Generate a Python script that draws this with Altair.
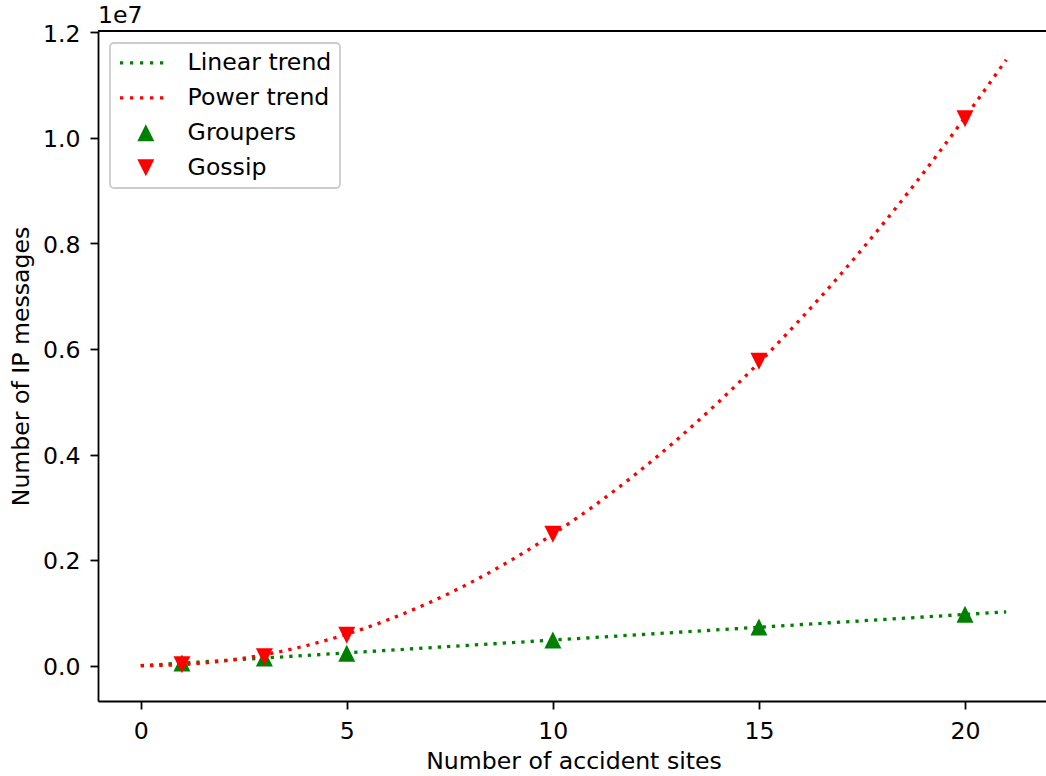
import altair as alt
import pandas as pd

# ---- data ----
sites = [1, 3, 5, 10, 15, 20]
groupers = [49000, 146000, 235000, 486000, 732000, 974000]
gossip = [20000, 171000, 576000, 2490000, 5767000, 10364000]

linear_x = [0, 21]
linear_y = [0, 1020000]

power_x = list(range(0, 22))
power_y = [0, 21690, 90450, 208500, 377200, 597200, 869500, 1194500, 1572800,
           2004600, 2490000, 3030000, 3624000, 4275000, 4981000, 5741000,
           6559000, 7431000, 8361000, 9346000, 10388000, 11481000]

series_names = ["Linear trend", "Power trend", "Groupers", "Gossip"]
series_colors = ["#008000", "#ff0000", "#008000", "#ff0000"]

x_ticks = [0, 5, 10, 15, 20]
y_ticks = [0, 2e6, 4e6, 6e6, 8e6, 1e7, 1.2e7]

FONT = "DejaVu Sans"
FS = 23.6

# ---- tables ----
pts = pd.DataFrame({
    "sites": sites + sites,
    "msgs": groupers + gossip,
    "series": ["Groupers"] * len(sites) + ["Gossip"] * len(sites),
})
lin = pd.DataFrame({"sites": linear_x, "msgs": linear_y})
pw = pd.DataFrame({"sites": power_x, "msgs": power_y})

# legend symbol paths (unit square -1..1 scaled)
def dotted_path(centers, h=0.19):
    return " ".join(f"M{c-h:.3f},{-h}H{c+h:.3f}V{h}H{c-h:.3f}Z" for c in centers)

dots = dotted_path([-2.85, -1.67, -0.49, 0.68, 1.86])
tri_up = "M0,-1L-1,1L1,1Z"
tri_down = "M-1,-1L1,-1L0,1Z"

W, H = 948, 670
xscale = alt.Scale(domain=[-1.036, 21.965], nice=False, zero=False)
yscale = alt.Scale(domain=[-668800, 12024600], nice=False, zero=False)

xaxis = alt.Axis(values=x_ticks, grid=False, title="Number of accident sites",
                 titleX=475.5, titleY=67.3, titleAnchor=None, titleAlign="center",
                 titleBaseline="alphabetic", labelBaseline="alphabetic",
                 labelPadding=29, tickSize=8)
yaxis = alt.Axis(values=y_ticks, grid=False, title="Number of IP messages",
                 labelExpr="format(datum.value / 1e7, '.1f')",
                 titleX=-69.7, titleY=335, titleAngle=270, titleAlign="center",
                 titleBaseline="alphabetic", labelBaseline="alphabetic",
                 labelOffset=8.8, labelPadding=10, tickSize=8)

dash = [3.3, 6.0]

lin_layer = alt.Chart(lin).mark_line(color="#008000", strokeWidth=3.3,
                                     strokeDash=dash, strokeCap="butt").encode(
    x=alt.X("sites:Q", scale=xscale, axis=xaxis),
    y=alt.Y("msgs:Q", scale=yscale, axis=yaxis),
)
pw_layer = alt.Chart(pw).mark_line(color="#ff0000", strokeWidth=3.3, strokeDash=dash,
                                   strokeCap="butt", interpolate="monotone").encode(
    x=alt.X("sites:Q", scale=xscale),
    y=alt.Y("msgs:Q", scale=yscale),
)

legend = alt.Legend(orient="none", legendX=12, legendY=12, title=None, padding=8,
                    rowPadding=10, symbolOffset=16, labelOffset=30,
                    labelFont=FONT, labelFontSize=FS, labelColor="black",
                    labelLimit=400, fillColor="rgba(255,255,255,0.8)",
                    strokeColor="#cccccc", cornerRadius=4, symbolSize=289,
                    symbolStrokeWidth=0, symbolOpacity=1)

pt_layer = alt.Chart(pts).mark_point(filled=True, size=289, opacity=1, strokeWidth=0).encode(
    x=alt.X("sites:Q", scale=xscale),
    y=alt.Y("msgs:Q", scale=yscale),
    color=alt.Color("series:N", scale=alt.Scale(domain=series_names, range=series_colors),
                    legend=legend),
    shape=alt.Shape("series:N", scale=alt.Scale(domain=series_names,
                                                range=[dots, dots, tri_up, tri_down]),
                    legend=legend),
    order=alt.Order("o:Q"),
).transform_calculate(o="datum.series == 'Gossip' ? 1 : 0")

top_spine = alt.Chart(pd.DataFrame({"a": [0]})).mark_rule(
    color="black", strokeWidth=1.8).encode(
    x=alt.value(0), x2=alt.value(W), y=alt.value(0))

exp_text = alt.Chart(pd.DataFrame({"t": ["1e7"]})).mark_text(
    align="left", baseline="alphabetic", font=FONT, fontSize=FS, color="black").encode(
    x=alt.value(0), y=alt.value(-7.7), text="t:N")

chart = alt.layer(lin_layer, pw_layer, pt_layer, top_spine, exp_text).properties(
    width=W, height=H,
    autosize=alt.AutoSizeParams(type="none"),
    padding={"left": 98, "top": 31, "right": 0, "bottom": 75},
).configure_view(stroke=None).configure_axis(
    domainColor="black", domainWidth=1.8, tickColor="black", tickWidth=1.8,
    labelFont=FONT, labelFontSize=FS, labelColor="black",
    titleFont=FONT, titleFontSize=FS, titleColor="black", titleFontWeight="normal",
).configure_legend(strokeWidth=1.8)

chart.save("out.html", embed_options={"renderer": "svg", "actions": False})
